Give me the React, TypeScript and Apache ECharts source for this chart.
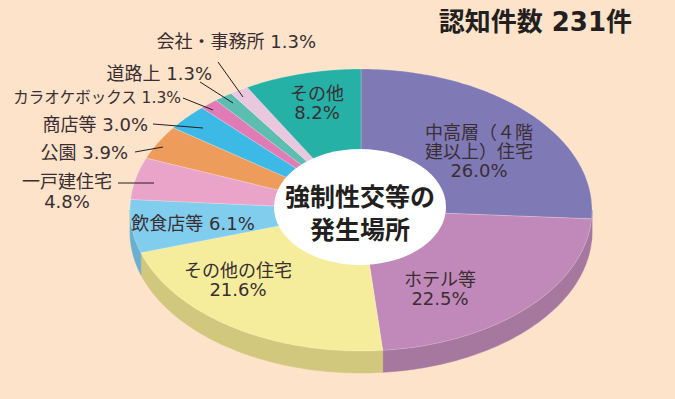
import React, { useEffect, useRef } from "react";
import * as echarts from "echarts";

const categories = [
  "中高層（４階建以上）住宅",
  "ホテル等",
  "その他の住宅",
  "飲食店等",
  "一戸建住宅",
  "公園",
  "商店等",
  "カラオケボックス",
  "道路上",
  "会社・事務所",
  "その他",
];
const values = [26.0, 22.5, 21.6, 6.1, 4.8, 3.9, 3.0, 1.3, 1.3, 1.3, 8.2];
const topColors = [
  "#7f79b5", "#c189b9", "#f6ed9c", "#80cdee", "#eaa4c9", "#ed9c5c",
  "#3db9e6", "#e07bb6", "#5cbdb1", "#e9c8df", "#25b1a6",
];
const sideColors = [
  "#6c66a0", "#a6789f", "#d2c87d", "#6aaed0", "#c98aaa", "#c98349",
  "#329cc4", "#bf6699", "#4c9f95", "#c7a9bd", "#1e968d",
];
const title = "認知件数 231件";
const centerTitle = "強制性交等の\n発生場所";

// label layout (positions separate from data)
const insideLabels = [
  { i: 0, text: "中高層（４階\n建以上）住宅\n26.0%", x: 479, y: 151 },
  { i: 1, text: "ホテル等\n22.5%", x: 440, y: 289 },
  { i: 2, text: "その他の住宅\n21.6%", x: 238, y: 280 },
  { i: 3, text: "飲食店等 6.1%", x: 193, y: 223 },
  { i: 10, text: "その他\n8.2%", x: 317, y: 103 },
];
const outsideLabels = [
  { i: 9, text: "会社・事務所 1.3%", size: 18, x: 316, y: 41, lx1: 218, ly1: 62, lx2: 243, ly2: 97 },
  { i: 8, text: "道路上 1.3%", size: 18, x: 212, y: 73, lx1: 200, ly1: 82, lx2: 233, ly2: 103 },
  { i: 7, text: "カラオケボックス 1.3%", size: 15.5, x: 181, y: 98, lx1: 183, ly1: 98, lx2: 213, ly2: 110 },
  { i: 6, text: "商店等 3.0%", size: 18, x: 148, y: 124, lx1: 153, ly1: 124, lx2: 203, ly2: 128 },
  { i: 5, text: "公園 3.9%", size: 18, x: 128, y: 152, lx1: 135, ly1: 152, lx2: 163, ly2: 147 },
];
const stackedOutside = { i: 4, text: "一戸建住宅\n4.8%", x: 67, y: 191, lx1: 118, ly1: 183, lx2: 154, ly2: 183 };

const CX = 361, CY = 210, RX = 231, RY = 141, DEPTH = 22;
const FONT = "'DejaVu Sans', 'Noto Sans CJK JP', sans-serif";
const TEXT = "#3a2e33";

export default function App() {
  const ref = useRef<HTMLDivElement>(null);
  useEffect(() => {
    document.body.style.margin = "0";
    const chart = echarts.init(ref.current!, null, { renderer: "svg" });
    const total = values.reduce((a, b) => a + b, 0);
    const slices: { a0: number; a1: number }[] = [];
    let acc = 0;
    values.forEach((v) => {
      const a0 = (acc / total) * Math.PI * 2;
      acc += v;
      slices.push({ a0, a1: (acc / total) * Math.PI * 2 });
    });
    const pt = (a: number, dy = 0) => [CX + RX * Math.sin(a), CY - RY * Math.cos(a) + dy];
    const arc = (a0: number, a1: number, dy = 0) => {
      const n = Math.max(2, Math.ceil(((a1 - a0) * 180) / Math.PI));
      const pts: number[][] = [];
      for (let k = 0; k <= n; k++) pts.push(pt(a0 + ((a1 - a0) * k) / n, dy));
      return pts;
    };
    const data = values.map((v, i) => ({ name: categories[i], value: [i, v] }));

    const option: any = {
      animation: false,
      backgroundColor: "#fde3c9",
      series: [
        {
          type: "custom",
          coordinateSystem: "none",
          data,
          z: 1,
          renderItem: (params: any) => {
            const { a0, a1 } = slices[params.dataIndex];
            const s = Math.max(a0, Math.PI / 2);
            const e = Math.min(a1, (Math.PI * 3) / 2);
            if (s >= e) return { type: "group", children: [] };
            const top = arc(s, e);
            const bottom = arc(s, e, DEPTH).reverse();
            return {
              type: "polygon",
              shape: { points: top.concat(bottom) },
              style: { fill: sideColors[params.dataIndex], stroke: sideColors[params.dataIndex], lineWidth: 0.5 },
            };
          },
        },
        {
          type: "custom",
          coordinateSystem: "none",
          data,
          z: 2,
          renderItem: (params: any) => {
            const { a0, a1 } = slices[params.dataIndex];
            const pts = [[CX, CY]].concat(arc(a0, a1));
            return {
              type: "polygon",
              shape: { points: pts },
              style: { fill: topColors[params.dataIndex], stroke: "rgba(255,255,255,0.35)", lineWidth: 0.6 },
            };
          },
        },
      ],
      graphic: [
        {
          type: "ellipse",
          z: 100,
          shape: { cx: 360, cy: 207, rx: 86, ry: 58 },
          style: { fill: "#ffffff" },
        },
        {
          type: "text",
          z: 101,
          x: 360,
          y: 211,
          style: {
            text: centerTitle,
            fill: "#231f20",
            font: `bold 25px 'Noto Sans CJK JP', sans-serif`,
            align: "center",
            verticalAlign: "middle",
            lineHeight: 33,
          },
        },
        {
          type: "text",
          z: 101,
          x: 632,
          y: 22,
          style: {
            text: title,
            fill: "#231f20",
            font: `bold 26px ${FONT}`,
            align: "right",
            verticalAlign: "middle",
          },
        },
        ...insideLabels.map((l) => ({
          type: "text",
          z: 101,
          x: l.x,
          y: l.y,
          style: {
            text: l.text,
            fill: TEXT,
            font: `18px ${FONT}`,
            align: "center",
            verticalAlign: "middle",
            lineHeight: 19,
          },
        })),
        ...outsideLabels.flatMap((l) => [
          {
            type: "text",
            z: 101,
            x: l.x,
            y: l.y,
            style: {
              text: l.text,
              fill: TEXT,
              font: `${l.size}px ${FONT}`,
              align: "right",
              verticalAlign: "middle",
            },
          },
          {
            type: "line",
            z: 101,
            shape: { x1: l.lx1, y1: l.ly1, x2: l.lx2, y2: l.ly2 },
            style: { stroke: "#231f20", lineWidth: 1 },
          },
        ]),
        {
          type: "text",
          z: 101,
          x: stackedOutside.x,
          y: stackedOutside.y,
          style: {
            text: stackedOutside.text,
            fill: TEXT,
            font: `18px ${FONT}`,
            align: "center",
            verticalAlign: "middle",
            lineHeight: 20,
          },
        },
        {
          type: "line",
          z: 101,
          shape: { x1: stackedOutside.lx1, y1: stackedOutside.ly1, x2: stackedOutside.lx2, y2: stackedOutside.ly2 },
          style: { stroke: "#231f20", lineWidth: 1 },
        },
      ],
    };
    chart.setOption(option);
    return () => chart.dispose();
  }, []);
  return (
    <div
      ref={ref}
      style={{ position: "absolute", left: 0, top: 0, width: 675, height: 399 }}
    />
  );
}
